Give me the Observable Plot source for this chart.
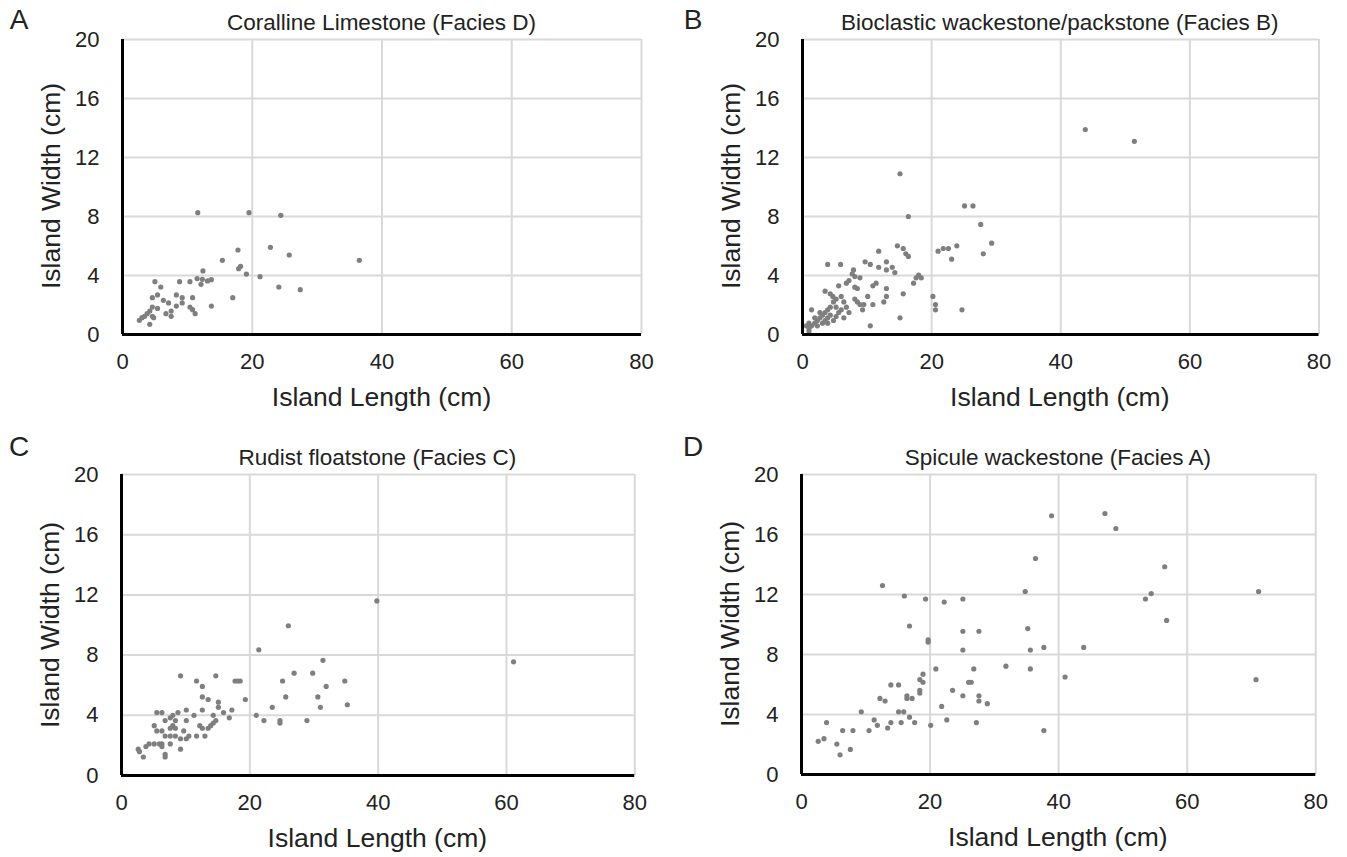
<!DOCTYPE html>
<html>
<head>
<meta charset="utf-8">
<script src="https://cdn.jsdelivr.net/npm/d3@7"></script>
<script src="https://cdn.jsdelivr.net/npm/@observablehq/plot@0.6"></script>
<style>
  html, body { margin: 0; padding: 0; background: #fff; }
  #root { position: relative; width: 1347px; height: 857px; overflow: hidden; font-family: "Liberation Sans", Arial, sans-serif; color: #222; }
  .lbl { position: absolute; white-space: nowrap; line-height: 1; transform: translate(-50%, -50%); }
  .panel { position: absolute; }
</style>
</head>
<body>
<div id="root"></div>
<script>
// ---- tick values ----
const xTicks = [0, 20, 40, 60, 80];
const yTicks = [0, 4, 8, 12, 16, 20];

// ---- Panel A: Coralline Limestone (Facies D) ----
const coralLength = [11.6, 19.5, 24.4, 17.8, 22.8, 25.7, 15.4, 18.2, 17.9, 36.5, 12.4, 19.1, 21.2, 11.5, 12.3, 13.1, 13.7, 12.1, 5.0, 5.9, 8.8, 10.4, 24.1, 27.4, 17.0, 13.7, 4.6, 5.4, 6.3, 7.1, 8.3, 9.2, 9.2, 8.3, 10.8, 10.4, 10.8, 11.2, 5.4, 4.6, 4.2, 3.8, 3.4, 3.0, 2.6, 4.2, 4.6, 6.7, 7.5, 7.5, 4.8];
const coralWidth  = [8.26, 8.26, 8.08, 5.73, 5.91, 5.39, 5.03, 4.62, 4.46, 5.03, 4.31, 4.10, 3.92, 3.79, 3.74, 3.63, 3.72, 3.40, 3.58, 3.22, 3.58, 3.58, 3.22, 3.04, 2.50, 1.93, 2.50, 2.68, 2.32, 2.14, 2.68, 2.50, 2.14, 1.93, 2.50, 1.86, 1.68, 1.41, 1.77, 1.86, 1.59, 1.41, 1.23, 1.14, 0.96, 0.69, 1.23, 1.41, 1.23, 1.59, 1.14];

// ---- Panel B: Bioclastic wackestone/packstone (Facies B) ----
const bioLength = [43.8, 51.4, 15.1, 25.1, 26.4, 16.4, 27.6, 29.3, 28.0, 21.0, 21.8, 22.6, 23.9, 23.1, 14.7, 15.6, 16.0, 16.4, 11.8, 3.9, 5.9, 9.7, 10.5, 11.8, 13.0, 13.0, 13.9, 14.3, 18.0, 17.6, 18.4, 17.2, 7.9, 7.7, 8.1, 8.9, 7.2, 6.8, 8.1, 8.5, 5.6, 11.4, 10.9, 13.0, 15.6, 13.0, 12.6, 10.1, 10.9, 9.5, 8.1, 8.5, 8.9, 9.3, 20.2, 20.6, 20.6, 24.7, 15.1, 10.5, 3.5, 4.3, 4.7, 5.2, 6.0, 6.4, 6.8, 7.2, 6.4, 5.6, 5.2, 4.8, 4.3, 3.9, 3.5, 3.1, 2.7, 2.3, 1.9, 1.4, 1.0, 1.4, 2.7, 3.9, 4.8, 3.1, 2.3, 3.9, 5.2, 1.0, 0.6, 1.0, 1.9, 6.0, 4.3, 3.5];
const bioWidth  = [13.9, 13.1, 10.9, 8.72, 8.72, 8.0, 7.46, 6.19, 5.47, 5.65, 5.83, 5.83, 6.01, 5.11, 6.01, 5.83, 5.47, 5.29, 5.65, 4.75, 4.75, 4.93, 4.75, 4.56, 4.93, 4.38, 4.56, 4.20, 4.02, 3.84, 3.84, 3.48, 4.38, 4.11, 3.93, 3.84, 3.66, 3.48, 3.21, 3.12, 3.30, 3.48, 3.30, 3.12, 2.76, 2.58, 2.21, 2.58, 2.03, 2.03, 2.40, 2.21, 2.03, 1.67, 2.58, 2.03, 1.67, 1.67, 1.13, 0.59, 2.94, 2.76, 2.58, 2.40, 2.58, 2.21, 1.85, 1.49, 1.13, 1.49, 1.85, 2.21, 1.85, 1.67, 1.49, 1.31, 1.13, 0.95, 0.77, 0.59, 0.41, 1.67, 1.49, 1.13, 0.95, 0.77, 0.59, 0.77, 1.22, 0.77, 0.59, 0.23, 1.13, 1.67, 1.31, 0.95];

// ---- Panel C: Rudist floatstone (Facies C) ----
const rudLength = [39.8, 61.1, 26.0, 21.4, 31.4, 26.9, 29.8, 25.1, 31.9, 34.8, 25.6, 30.6, 31.0, 35.2, 23.5, 21.0, 22.2, 24.7, 24.7, 28.9, 19.3, 17.7, 18.1, 18.5, 9.2, 11.7, 12.6, 14.7, 12.6, 13.5, 15.1, 15.1, 12.6, 10.1, 11.3, 15.9, 17.2, 16.8, 14.3, 14.7, 14.3, 13.9, 13.5, 12.6, 12.2, 13.0, 11.7, 10.5, 10.1, 9.2, 9.7, 10.1, 8.8, 8.0, 7.6, 6.8, 5.5, 6.3, 8.4, 8.0, 7.6, 5.1, 5.5, 6.3, 6.8, 7.6, 8.4, 9.2, 7.6, 6.3, 5.9, 5.1, 4.3, 3.8, 2.6, 2.8, 3.4, 6.8, 6.8, 6.3, 8.4];
const rudWidth  = [11.6, 7.55, 9.95, 8.35, 7.65, 6.8, 6.8, 6.28, 5.92, 6.28, 5.22, 5.22, 4.53, 4.7, 4.53, 4.0, 3.65, 3.65, 3.48, 3.65, 5.05, 6.28, 6.28, 6.28, 6.62, 6.28, 5.92, 6.62, 5.22, 5.05, 4.87, 4.53, 4.35, 4.35, 4.0, 4.18, 4.35, 3.83, 4.0, 3.65, 3.48, 3.31, 3.14, 3.14, 3.31, 2.62, 2.62, 2.62, 2.44, 2.44, 2.96, 3.65, 4.18, 4.0, 3.83, 3.65, 4.18, 4.18, 3.65, 3.31, 3.14, 3.31, 2.96, 2.96, 2.62, 2.62, 2.62, 1.75, 2.10, 2.10, 2.10, 2.10, 2.10, 1.92, 1.75, 1.58, 1.23, 1.41, 1.23, 1.92, 3.14];

// ---- Panel D: Spicule wackestone (Facies A) ----
const spiLength = [38.9, 36.4, 34.8, 12.6, 16.0, 19.3, 22.2, 25.1, 16.8, 19.7, 19.7, 25.1, 27.6, 35.2, 25.1, 35.6, 37.7, 41.0, 31.8, 35.6, 26.8, 20.9, 18.9, 18.4, 18.9, 18.4, 18.4, 13.9, 15.1, 26.0, 26.4, 23.5, 25.1, 27.6, 27.6, 28.9, 21.8, 16.4, 16.4, 17.2, 12.2, 13.0, 15.1, 15.9, 9.3, 11.3, 11.8, 13.4, 13.9, 15.5, 16.8, 17.6, 20.1, 22.6, 27.2, 37.7, 10.5, 8.0, 6.4, 3.9, 3.5, 2.6, 5.5, 7.6, 6.0, 47.2, 48.9, 56.5, 54.4, 53.5, 56.8, 43.9, 71.1, 70.7];
const spiWidth  = [17.25, 14.4, 12.2, 12.6, 11.9, 11.7, 11.5, 11.7, 9.9, 8.97, 8.83, 9.55, 9.55, 9.73, 8.3, 8.3, 8.47, 6.5, 7.22, 7.04, 7.04, 7.04, 6.69, 6.33, 6.15, 5.61, 5.43, 5.97, 5.97, 6.15, 6.15, 5.61, 5.25, 5.25, 4.9, 4.72, 4.54, 5.25, 5.07, 5.07, 5.07, 4.9, 4.18, 4.18, 4.18, 3.64, 3.28, 3.1, 3.46, 3.46, 3.82, 3.46, 3.28, 3.64, 3.46, 2.93, 2.93, 2.93, 2.93, 3.46, 2.39, 2.21, 2.03, 1.67, 1.31, 17.4, 16.4, 13.85, 12.06, 11.7, 10.27, 8.47, 12.2, 6.32];

// ---- text ----
const letters = ["A", "B", "C", "D"];
const titles = ["Coralline Limestone (Facies D)", "Bioclastic wackestone/packstone (Facies B)", "Rudist floatstone (Facies C)", "Spicule wackestone (Facies A)"];
const xLabel = "Island Length (cm)";
const yLabel = "Island Width (cm)";

const seriesX = [coralLength, bioLength, rudLength, spiLength];
const seriesY = [coralWidth, bioWidth, rudWidth, spiWidth];

// frame boxes (layout only)
const frames = [
  {L: 122, R: 641, T: 38.5, B: 333.5, lx: 19, ly: 20},
  {L: 801.5, R: 1318, T: 38.5, B: 333.5, lx: 693, ly: 20},
  {L: 120.7, R: 634, T: 474, B: 775, lx: 19, ly: 447},
  {L: 800.7, R: 1315, T: 474, B: 774, lx: 693, ly: 447}
];

const root = document.getElementById("root");
function addLabel(text, cx, cy, size, rotate) {
  const d = document.createElement("div");
  d.className = "lbl";
  d.textContent = text;
  d.style.left = cx + "px";
  d.style.top = cy + "px";
  d.style.fontSize = size + "px";
  if (rotate) d.style.transform = "translate(-50%, -50%) rotate(" + rotate + "deg)";
  root.appendChild(d);
}

const mL = 90, mT = 20, mR = 15, mB = 45;
frames.forEach((f, i) => {
  const data = seriesX[i].map((x, j) => ({x, y: seriesY[i][j]}));
  const w = (f.R - f.L) + mL + mR;
  const h = (f.B - f.T) + mT + mB;
  const chart = Plot.plot({
    width: w,
    height: h,
    marginLeft: mL, marginRight: mR, marginTop: mT, marginBottom: mB,
    style: {fontFamily: '"Liberation Sans", Arial, sans-serif', color: "#222", background: "transparent", overflow: "visible"},
    x: {domain: [0, 80]},
    y: {domain: [0, 20]},
    marks: [
      Plot.ruleY(yTicks.slice(1), {stroke: "#d9d9d9", strokeWidth: 2}),
      Plot.ruleX(xTicks.slice(1), {stroke: "#d9d9d9", strokeWidth: 2}),
      Plot.axisX(xTicks, {tickSize: 0, tickPadding: 19, fontSize: 22, label: null}),
      Plot.axisY(yTicks, {tickSize: 0, tickPadding: 23, fontSize: 22, label: null}),
      Plot.dot(data, {x: "x", y: "y", r: 2.6, fill: "#7f7f7f", stroke: "none"}),
      Plot.ruleY([0], {stroke: "#000", strokeWidth: 3}),
      Plot.ruleX([0], {stroke: "#000", strokeWidth: 3})
    ]
  });
  chart.classList.add("panel");
  chart.style.left = (f.L - mL) + "px";
  chart.style.top = (f.T - mT) + "px";
  root.appendChild(chart);

  const cx = (f.L + f.R) / 2;
  const cy = (f.T + f.B) / 2;
  addLabel(letters[i], f.lx, f.ly, 28);
  addLabel(titles[i], cx, f.T - 16, 22.5);
  addLabel(xLabel, cx, f.B + 63, 26.5);
  addLabel(yLabel, f.L - 71, cy, 26.5, -90);
});
</script>
</body>
</html>
